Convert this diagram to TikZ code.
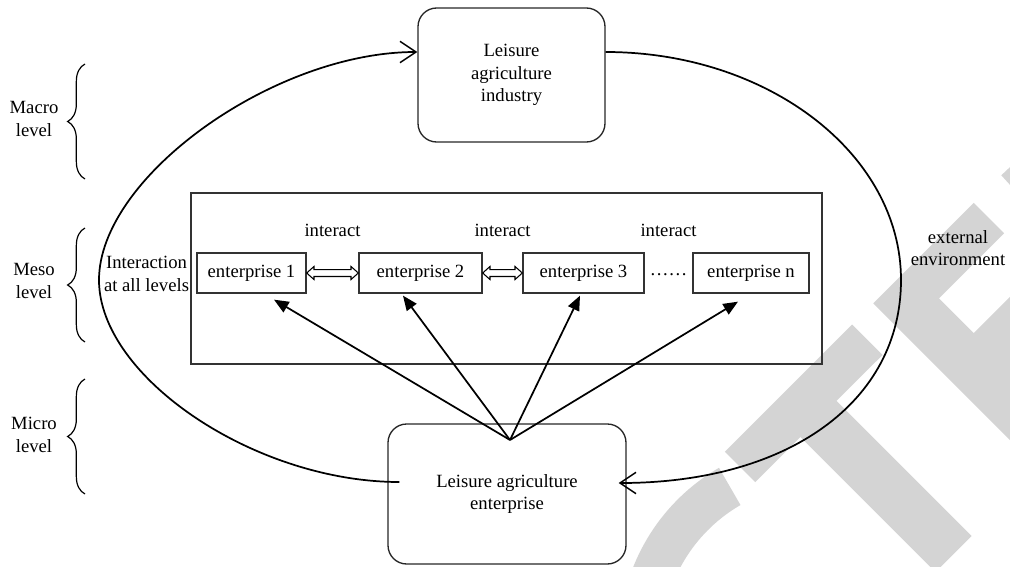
\documentclass[tikz,border=0pt]{standalone}
\usepackage{fontspec}
\setmainfont{Liberation Serif}
\usetikzlibrary{arrows.meta,calc,decorations.pathreplacing}

% hollow two-headed arrow between two boxes
\newcommand\twowayarrow[2]{%
  \draw[twoway] let \p1=(#1.east), \p2=(#2.west) in
    (\x1,\y1) -- ++(5.5pt,4.9pt) -- ++(0,-2.3pt) -- (\x2-5.5pt,\y1+2.6pt)
    -- ++(0,2.3pt) -- (\x2,\y1) -- ++(-5.5pt,-4.9pt) -- ++(0,2.3pt)
    -- (\x1+5.5pt,\y1-2.6pt) -- ++(0,-2.3pt) -- cycle;}

\begin{document}
\begin{tikzpicture}[x=0.75pt,y=-0.75pt,
  every node/.style={font=\fontsize{14}{16.9}\selectfont, inner sep=0pt},
  bigbox/.style={draw=black!85, line width=1pt, rounded corners=14pt, align=center},
  entbox/.style={draw=black!80, line width=1pt, minimum height=30pt},
  frame/.style={draw=black!80, line width=1pt},
  txt/.style={align=center},
  loop/.style={line width=1.3pt, -{Straight Barb[length=12pt,width=16pt,line width=1.1pt]}},
  link/.style={line width=1.3pt, -{Triangle[length=11pt,width=9pt]}},
  twoway/.style={draw=black, line width=0.8pt, fill=white},
  levelbrace/.style={decorate, decoration={brace, amplitude=13pt}, line width=0.9pt},
  wm/.style={fill=black!17, draw=none}
]
\useasboundingbox (0,0) rectangle (1010,567);

% light grey lettering in the background
\begin{scope}
  \clip (0,0) rectangle (1010,567);
  \fill[wm] (724.8,451.8) -- (852.1,324.6) -- (882.5,355.0) -- (836.5,400.9)
    -- (971.6,536.0) -- (935.5,572.1) -- (800.4,437.0) -- (755.2,482.2) -- cycle;
  \fill[wm] (873.3,303.4) -- (973.7,202.9) -- (1004.1,233.3) -- (939.0,298.4)
    -- (973.7,333.1) -- (1049.4,257.4) -- (1173.8,381.8) -- (1062.8,492.9) -- cycle;
  \fill[wm] (1001.3,175.3) -- (1060,120) -- (1060,240) -- cycle;
  \fill[wm] ($(819,641)+(240:200)$) arc[start angle=240, end angle=185, radius=200]
    -- ($(819,641)+(185:157)$) arc[start angle=185, end angle=240, radius=157] -- cycle;
\end{scope}

% level braces and their labels
\draw[levelbrace] (85,179) -- (85,64);
\draw[levelbrace] (85,342) -- (85,228);
\draw[levelbrace] (85,494) -- (85,379);
\node[txt] (macro) at (34,119) {Macro\\level};
\node[txt] (meso) at (34,281) {Meso\\level};
\node[txt] (micro) at (34,435) {Micro\\level};

% industry and enterprise boxes
\node[bigbox, minimum width=140.25pt, minimum height=100.5pt] (top) at (511.5,75)
  {Leisure\\agriculture\\industry};
\node[bigbox, minimum width=178.5pt, minimum height=105pt] (bot) at (507,494)
  {Leisure agriculture\\enterprise};

% meso frame with the enterprises
\node[frame, minimum width=473.25pt, minimum height=128.25pt] (mesoframe) at (506.5,278.5) {};
\node[entbox, minimum width=81.75pt] (e1) at (251.5,273) {enterprise 1};
\node[entbox, minimum width=92.25pt] (e2) at (420.5,273) {enterprise 2};
\node[entbox, minimum width=90.75pt] (e3) at (583.5,273) {enterprise 3};
\node[entbox, minimum width=87pt] (en) at (751,273) {enterprise n};
\node (dots) at ($(e3.east)!0.5!(en.west)+(0,2)$) {……};

\node (i1) at ($(e1.east)!0.5!(e2.west)+(0,-43)$) {interact};
\node (i2) at ($(e2.east)!0.5!(e3.west)+(0,-43)$) {interact};
\node (i3) at ($(e3.east)!0.5!(en.west)+(0,-43)$) {interact};

\twowayarrow{e1}{e2}
\twowayarrow{e2}{e3}

\node[txt] (inter) at (146.5,274) {Interaction\\at all levels};
\node[txt] (ext) at (958,248) {external\\environment};

% feedback loop through the environment
\draw[loop] ($(bot.west)+(12,-12)$) .. controls (255,482) and (99,377) .. (99,280)
  .. controls (99,177) and (274,52) .. ($(top.west)+(0,-23)$);
\draw[loop] ($(top.east)+(0,-23)$) .. controls (768,52) and (901,154) .. (901,280)
  .. controls (901,402) and (788,483) .. ($(bot.east)+(-8,-11)$);

% enterprise acts on each firm
\coordinate (hub) at (510,440);
\draw[link] (hub) -- ($(e1.south)+(22.5,6)$);
\draw[link] (hub) -- ($(e2.south)+(-17.5,2)$);
\draw[link] (hub) -- ($(e3.south)+(-3.5,2)$);
\draw[link] (hub) -- ($(en.south)+(-13,8)$);
\end{tikzpicture}
\end{document}
